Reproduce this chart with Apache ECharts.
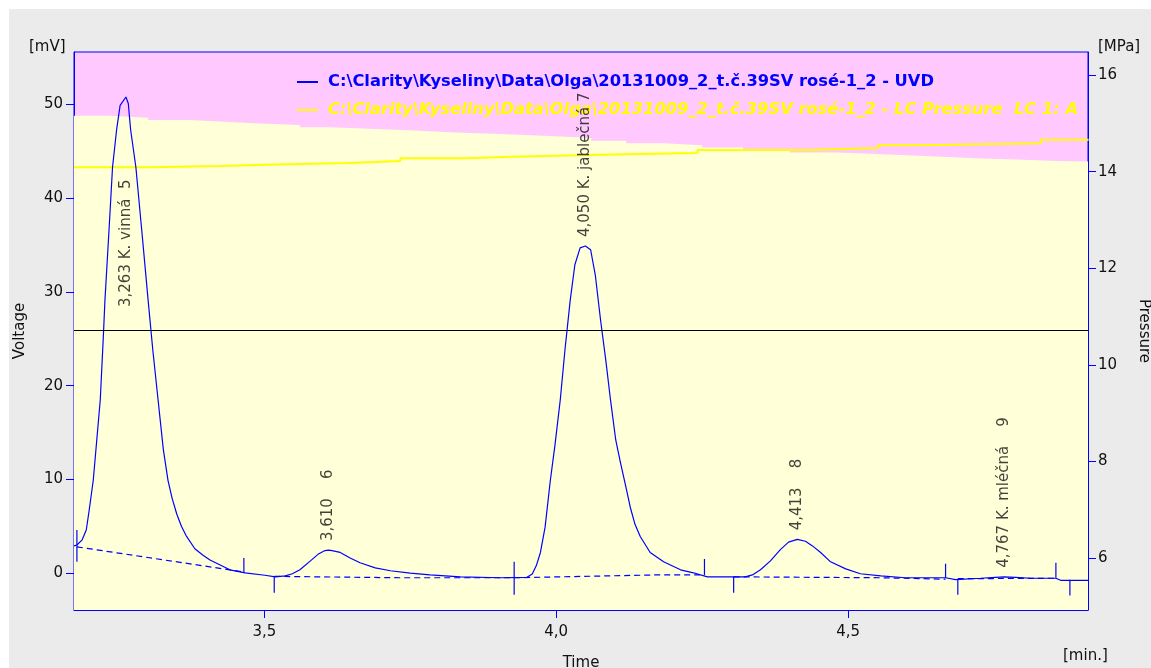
<!DOCTYPE html>
<html>
<head>
<meta charset="utf-8">
<title>Chromatogram</title>
<script src="https://cdn.jsdelivr.net/npm/echarts@6/dist/echarts.min.js"></script>
<style>
  html, body { margin: 0; padding: 0; background: #ffffff; }
  #chart { position: absolute; left: 9px; top: 9px; width: 1142px; height: 659px; background: #ebebeb; }
</style>
</head>
<body>
<div id="chart"></div>
<script>
// Detector signal (UVD): [time in min, signal in mV]
const uvdTrace = [
  [3.174, 2.9], [3.179, 3.0], [3.188, 3.55], [3.195, 4.6], [3.200, 6.7], [3.207, 9.9],
  [3.213, 14.2], [3.219, 18.5], [3.224, 24.9], [3.227, 29.1], [3.234, 36.6], [3.240, 43.3],
  [3.247, 47.3], [3.253, 49.9], [3.263, 50.8], [3.267, 50.1], [3.271, 47.3], [3.280, 43.3],
  [3.290, 36.6], [3.301, 29.1], [3.309, 23.8], [3.318, 18.5], [3.327, 13.2], [3.335, 9.9],
  [3.342, 8.0], [3.350, 6.3], [3.358, 5.0], [3.366, 4.0], [3.381, 2.6], [3.395, 1.9],
  [3.407, 1.4], [3.441, 0.35],
  [3.467, 0.03], [3.501, -0.23], [3.519, -0.4], [3.536, -0.3], [3.548, -0.07], [3.561, 0.35],
  [3.579, 1.3], [3.592, 2.0], [3.604, 2.4], [3.610, 2.45], [3.616, 2.4], [3.630, 2.2],
  [3.647, 1.6], [3.664, 1.1], [3.690, 0.55], [3.716, 0.25], [3.750, 0.0], [3.784, -0.2],
  [3.836, -0.4], [3.904, -0.5], [3.950, -0.45], [3.959, -0.1], [3.966, 0.8], [3.973, 2.2],
  [3.981, 4.9], [3.990, 9.9], [3.998, 13.7], [4.007, 18.5], [4.015, 23.8], [4.024, 29.1],
  [4.032, 32.9], [4.041, 34.7], [4.050, 34.9], [4.059, 34.5], [4.067, 31.8], [4.076, 27.0],
  [4.085, 22.7], [4.093, 18.5], [4.102, 14.2], [4.110, 11.8], [4.119, 9.3], [4.127, 7.0],
  [4.135, 5.2], [4.144, 3.9], [4.161, 2.2], [4.184, 1.2], [4.213, 0.35], [4.235, 0.03], [4.259, -0.4],
  [4.324, -0.4], [4.336, -0.2], [4.350, 0.35], [4.367, 1.3], [4.384, 2.5], [4.398, 3.3],
  [4.413, 3.6], [4.427, 3.4], [4.439, 2.9], [4.453, 2.2], [4.470, 1.2], [4.496, 0.45],
  [4.521, -0.07], [4.556, -0.3], [4.598, -0.5], [4.667, -0.5], [4.684, -0.7], [4.727, -0.55],
  [4.753, -0.45], [4.767, -0.4], [4.787, -0.45], [4.813, -0.55], [4.856, -0.55], [4.864, -0.77],
  [4.912, -0.77]
];

// Integration baseline segments ('-' breaks the line between segments)
const baseline = [
  [3.179, 2.8], [3.467, 0.1], [3.49, '-'],
  [3.517, -0.35], [3.733, -0.5], [3.928, -0.5], [4.007, -0.4], [4.170, -0.2], [4.254, -0.2], [4.28, '-'],
  [4.304, -0.4], [4.556, -0.5], [4.667, -0.65], [4.68, '-'],
  [4.688, -0.6], [4.856, -0.55]
];

// Peak start / end markers: time, upper and lower end of the tick (mV)
const markerTimes  = [3.179, 3.465, 3.517, 3.928, 4.254, 4.304, 4.667, 4.688, 4.856, 4.880];
const markerTop    = [4.6, 1.6, -0.4, 1.2, 1.5, -0.4, 1.0, -0.7, 1.1, -0.7];
const markerBottom = [1.2, 0.0, -2.1, -2.3, -0.2, -2.1, -0.5, -2.3, -0.5, -2.4];

// Identified peaks (name column keeps the report's own spacing before the peak number)
const peakTimes   = [3.263, 3.610, 4.050, 4.413, 4.767];
const peakHeights = [50.8, 2.45, 34.9, 3.6, -0.4];
const peakNames   = ['K. vinná  ', '   ', 'K. jablečná ', '   ', 'K. mléčná    '];
const peakNumbers = [5, 6, 7, 8, 9];

// LC pressure trace: [time, MPa]
const pressureTrace = [
  [3.174, 14.09], [3.304, 14.12], [3.424, 14.15], [3.519, 14.18], [3.647, 14.22], [3.733, 14.28],
  [3.848, 14.31], [3.921, 14.34], [4.041, 14.36], [4.122, 14.39], [4.242, 14.45], [4.436, 14.49],
  [4.552, 14.55], [4.629, 14.59], [4.830, 14.66], [4.912, 14.66]
];

// Upper edge of the shaded pressure band: [time, MPa]
const pressureBand = [
  [3.174, 15.16], [3.236, 15.12], [3.301, 15.07], [3.373, 15.03], [3.441, 15.00], [3.493, 14.97],
  [3.561, 14.92], [3.613, 14.89], [3.681, 14.86], [3.750, 14.82], [3.818, 14.78], [3.904, 14.74],
  [3.990, 14.70], [4.060, 14.64], [4.120, 14.59], [4.185, 14.55], [4.250, 14.50], [4.320, 14.45],
  [4.400, 14.40], [4.480, 14.36], [4.560, 14.32], [4.640, 14.28], [4.720, 14.25], [4.800, 14.22],
  [4.860, 14.21], [4.912, 14.20]
];

const referenceLevel = 25.9; // mV

// Axis ticks
const timeTicks     = [3.5, 4.0, 4.5];
const voltageTicks  = [0, 10, 20, 30, 40, 50];
const pressureTicks = [6, 8, 10, 12, 14, 16];

const uvdName = 'C:\\Clarity\\Kyseliny\\Data\\Olga\\20131009_2_t.č.39SV rosé-1_2 - UVD';
const pressureName = 'C:\\Clarity\\Kyseliny\\Data\\Olga\\20131009_2_t.č.39SV rosé-1_2 - LC Pressure  LC 1: A';

const FONT = 'DejaVu Sans';
const BLUE = '#0000ff';
const INK = '#111111';

const decimalComma = (v, d) => v.toFixed(d).replace('.', ',');

const peakLabelData = peakTimes.map((t, i) => {
  const item = { value: [t, peakHeights[i]], name: peakNames[i], number: peakNumbers[i] };
  if (i === 0) item.label = { distance: -210 };
  return item;
});

const chart = echarts.init(document.getElementById('chart'), null, { renderer: 'canvas' });

chart.setOption({
  animation: false,
  textStyle: { fontFamily: FONT },
  grid: {
    left: 65, top: 43, right: 63, bottom: 58,
    containLabel: false, outerBoundsMode: 'none',
    show: true, backgroundColor: '#ffc8ff', borderColor: BLUE, borderWidth: 1
  },
  legend: {
    left: 288, top: 65, orient: 'vertical', padding: 0,
    icon: 'rect', itemWidth: 21, itemHeight: 2, itemGap: 12,
    selectedMode: false,
    textStyle: { fontFamily: FONT, fontSize: 16.3, fontWeight: 'bold', padding: [0, 0, 0, 5] },
    data: [
      { name: uvdName, textStyle: { color: BLUE } },
      { name: pressureName, textStyle: { color: '#ffff00', fontStyle: 'italic' } }
    ]
  },
  xAxis: {
    type: 'value', min: 3.174, max: 4.911,
    name: 'Time', nameLocation: 'middle', nameGap: 46,
    nameTextStyle: { color: INK, fontSize: 15, fontFamily: FONT },
    axisLine: { show: true, onZero: false, lineStyle: { color: BLUE, width: 1 } },
    axisTick: { show: true, length: 8, customValues: timeTicks, lineStyle: { color: BLUE } },
    axisLabel: { customValues: timeTicks, color: INK, fontSize: 15, margin: 15, formatter: v => decimalComma(v, 1) },
    splitLine: { show: false }
  },
  yAxis: [
    {
      type: 'value', min: -3.94, max: 55.6, position: 'left',
      name: 'Voltage', nameLocation: 'middle', nameGap: 46, nameRotate: 90,
      nameTextStyle: { color: INK, fontSize: 15, fontFamily: FONT },
      axisLine: { show: true, onZero: false, lineStyle: { color: BLUE } },
      axisTick: { show: true, length: 8, customValues: voltageTicks, lineStyle: { color: BLUE } },
      axisLabel: { customValues: voltageTicks, color: INK, fontSize: 15, margin: 11 },
      splitLine: { show: false }
    },
    {
      type: 'value', min: 4.92, max: 16.48, position: 'right',
      name: 'Pressure', nameLocation: 'middle', nameGap: 48, nameRotate: -90,
      nameTextStyle: { color: INK, fontSize: 15, fontFamily: FONT },
      axisLine: { show: true, onZero: false, lineStyle: { color: BLUE } },
      axisTick: { show: true, length: 8, customValues: pressureTicks, lineStyle: { color: BLUE } },
      axisLabel: { customValues: pressureTicks, color: INK, fontSize: 15, margin: 10 },
      splitLine: { show: false }
    }
  ],
  graphic: [
    { type: 'text', left: 20, top: 31, style: { text: '[mV]', font: '15px "DejaVu Sans"', fill: INK } },
    { type: 'text', left: 1089, top: 31, style: { text: '[MPa]', font: '15px "DejaVu Sans"', fill: INK } },
    { type: 'text', left: 1054, top: 640, style: { text: '[min.]', font: '15px "DejaVu Sans"', fill: INK } }
  ],
  series: [
    {
      name: 'band', type: 'line', yAxisIndex: 1, step: 'end', symbol: 'none', silent: true,
      data: pressureBand, z: 1,
      lineStyle: { width: 0 },
      areaStyle: { color: '#ffffd8', opacity: 1, origin: 'start' }
    },
    {
      name: pressureName, type: 'line', yAxisIndex: 1, step: 'end', symbol: 'none', silent: true,
      data: pressureTrace, z: 2,
      lineStyle: { color: '#ffff00', width: 2 },
      itemStyle: { color: '#ffff00' }
    },
    {
      name: uvdName, type: 'line', yAxisIndex: 0, symbol: 'none', silent: true,
      data: uvdTrace, z: 4,
      lineStyle: { color: BLUE, width: 1.2 },
      itemStyle: { color: BLUE },
      markLine: {
        silent: true, symbol: 'none', label: { show: false },
        lineStyle: { color: '#000000', type: 'solid', width: 1 },
        data: [{ yAxis: referenceLevel }]
      }
    },
    {
      name: 'baseline', type: 'line', yAxisIndex: 0, symbol: 'none', silent: true,
      data: baseline, z: 3, connectNulls: false,
      lineStyle: { color: BLUE, width: 1.2, type: [6, 4] }
    },
    {
      name: 'markers', type: 'custom', yAxisIndex: 0, silent: true, z: 5,
      data: markerTimes.map((t, i) => [t, markerTop[i], markerBottom[i]]),
      encode: { x: 0, y: [1, 2] },
      renderItem: (params, api) => {
        const a = api.coord([api.value(0), api.value(1)]);
        const b = api.coord([api.value(0), api.value(2)]);
        return {
          type: 'line',
          shape: { x1: a[0], y1: a[1], x2: b[0], y2: b[1] },
          style: { stroke: BLUE, lineWidth: 1.2 }
        };
      }
    },
    {
      name: 'peaks', type: 'scatter', yAxisIndex: 0, symbolSize: 0, silent: true, z: 6,
      data: peakLabelData,
      label: {
        show: true, position: 'top', distance: 9, rotate: 90,
        align: 'left', verticalAlign: 'middle',
        color: INK, fontSize: 15, fontFamily: FONT,
        formatter: p => decimalComma(p.value[0], 3) + ' ' + p.data.name + p.data.number
      }
    }
  ]
});
</script>
</body>
</html>
